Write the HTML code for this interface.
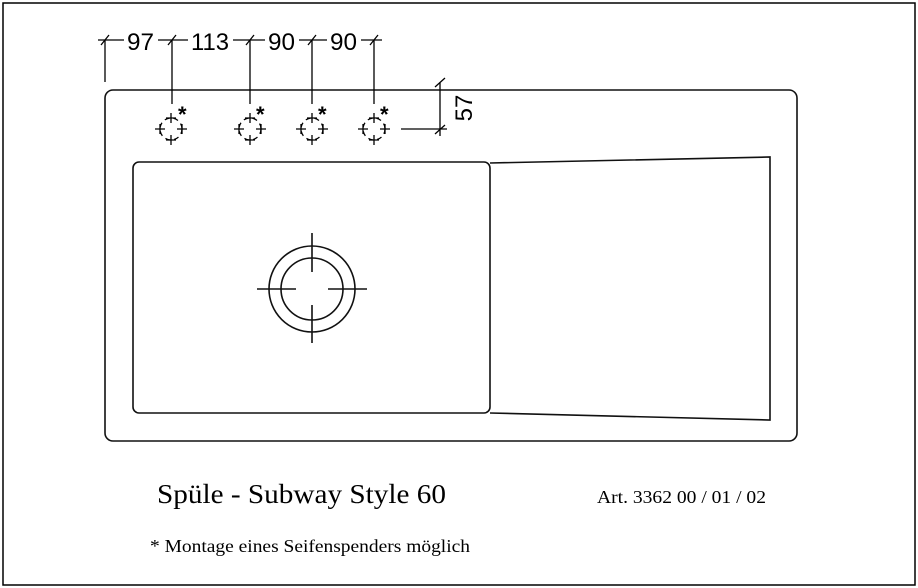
<!DOCTYPE html>
<html><head><meta charset="utf-8"><style>
html,body{margin:0;padding:0;background:#fff;}
svg{display:block;}
</style></head><body>
<svg width="918" height="588" viewBox="0 0 918 588" xmlns="http://www.w3.org/2000/svg">
<rect x="3" y="3" width="912" height="582" fill="none" stroke="#000" stroke-width="1.5"/>
<g fill="none" stroke="#111" stroke-width="1.6">
<rect x="105" y="90" width="692" height="351" rx="8"/>
<rect x="133" y="162" width="357" height="251" rx="6"/>
<polyline points="490,163 770,157 770,420 490,413"/>
<circle cx="312" cy="289" r="43"/>
<circle cx="312" cy="289" r="31"/>
<path d="M312 233V272M312 305V343M257 289H296M328 289H367"/>
</g>
<g stroke="#000" stroke-width="1.3" fill="none">
<path d="M98 40H382"/>
<path d="M105 40V82M172 40V104M250 40V104M312 40V104M374 40V104"/>
<path d="M101 45L109 35M168 45L176 35M246 45L254 35M308 45L316 35M370 45L378 35"/>
<path d="M440 82V136M401 129H447M435 87L445 78M435 134L445 125"/>
</g>
<g fill="#fff">
<rect x="124" y="28" width="34" height="24"/>
<rect x="188" y="28" width="45" height="24"/>
<rect x="265" y="28" width="34" height="24"/>
<rect x="327" y="28" width="34" height="24"/>
</g>
<g font-family="Liberation Sans, sans-serif" font-size="24" fill="#000">
<text x="127" y="50" textLength="27" lengthAdjust="spacingAndGlyphs">97</text>
<text x="191" y="50" textLength="38" lengthAdjust="spacingAndGlyphs">113</text>
<text x="268" y="50" textLength="27" lengthAdjust="spacingAndGlyphs">90</text>
<text x="330" y="50" textLength="27" lengthAdjust="spacingAndGlyphs">90</text>
<text transform="translate(472,108) rotate(-90)" text-anchor="middle">57</text>
</g>
<g stroke="#000" stroke-width="1.3" fill="none">
<g transform="translate(171,129)">
<circle r="11" stroke-dasharray="5 4"/>
<path d="M0 -16V-6M-5 -11H5M0 6V16M-5 11H5M-16 0H-6M-11 -5V5M6 0H16M11 -5V5"/>
</g>
<g transform="translate(250,129)">
<circle r="11" stroke-dasharray="5 4"/>
<path d="M0 -16V-6M-5 -11H5M0 6V16M-5 11H5M-16 0H-6M-11 -5V5M6 0H16M11 -5V5"/>
</g>
<g transform="translate(312,129)">
<circle r="11" stroke-dasharray="5 4"/>
<path d="M0 -16V-6M-5 -11H5M0 6V16M-5 11H5M-16 0H-6M-11 -5V5M6 0H16M11 -5V5"/>
</g>
<g transform="translate(374,129)">
<circle r="11" stroke-dasharray="5 4"/>
<path d="M0 -16V-6M-5 -11H5M0 6V16M-5 11H5M-16 0H-6M-11 -5V5M6 0H16M11 -5V5"/>
</g>
</g>
<g font-family="Liberation Sans, sans-serif" font-size="22" font-weight="bold" fill="#000">
<text x="178" y="122">*</text>
<text x="256" y="122">*</text>
<text x="318" y="122">*</text>
<text x="380" y="122">*</text>
</g>
<g font-family="Liberation Serif, serif" fill="#000">
<text x="157" y="503" font-size="27" textLength="289" lengthAdjust="spacingAndGlyphs">Spüle - Subway Style 60</text>
<text x="597" y="503" font-size="18" textLength="169" lengthAdjust="spacingAndGlyphs">Art. 3362 00 / 01 / 02</text>
<text x="150" y="552" font-size="18" textLength="320" lengthAdjust="spacingAndGlyphs">* Montage eines Seifenspenders möglich</text>
</g>
</svg>
</body></html>
